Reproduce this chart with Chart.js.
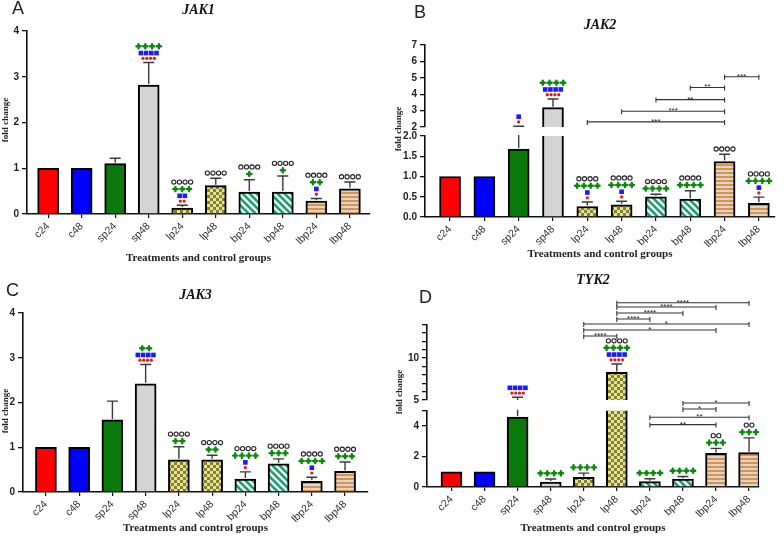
<!DOCTYPE html>
<html>
<head>
<meta charset="utf-8">
<script src="https://cdn.jsdelivr.net/npm/chart.js@4.4.0/dist/chart.umd.min.js"></script>
<style>
  body { margin: 0; background: #fff; width: 784px; height: 537px; position: relative; overflow: hidden; }
  .panel { position: absolute; }
  .panel canvas { position: absolute; left: 0; top: 0; }
  .letter { position: absolute; font: 18px "Liberation Sans", Arial, sans-serif; color: #222; }
</style>
</head>
<body>
<div class="panel" style="left:0;top:0;width:392px;height:270px">
  <canvas id="cA" width="392" height="270"></canvas>
</div>
<div class="panel" style="left:392px;top:0;width:392px;height:270px">
  <canvas id="cB1" width="392" height="270"></canvas>
  <canvas id="cB2" width="392" height="270"></canvas>
</div>
<div class="panel" style="left:0;top:270px;width:392px;height:267px">
  <canvas id="cC" width="392" height="267"></canvas>
</div>
<div class="panel" style="left:392px;top:270px;width:392px;height:267px">
  <canvas id="cD1" width="392" height="267"></canvas>
  <canvas id="cD2" width="392" height="267"></canvas>
</div>
<div class="letter" style="left:12px;top:-2px">A</div>
<div class="letter" style="left:414px;top:2px">B</div>
<div class="letter" style="left:6px;top:280px">C</div>
<div class="letter" style="left:419px;top:287px">D</div>

<script>
// ---- data ----
const groups = ['c24', 'c48', 'sp24', 'sp48', 'lp24', 'lp48', 'bp24', 'bp48', 'lbp24', 'lbp48'];

// JAK1 (A)
const jak1Mean  = [1, 1, 1.10, 2.82, 0.13, 0.62, 0.48, 0.48, 0.28, 0.55];
const jak1Err   = [0, 0, 0.12, 0.49, 0.06, 0.16, 0.27, 0.35, 0.06, 0.15];
const jak1Ticks = [0, 1, 2, 3, 4];
const jak1Labels = ['0', '1', '2', '3', '4'];
const jak1Red   = [0, 0, 0, 4, 2, 0, 0, 0, 1, 0];
const jak1Blue  = [0, 0, 0, 4, 2, 0, 0, 0, 1, 0];
const jak1Green = [0, 0, 0, 4, 3, 0, 1, 1, 2, 0];
const jak1Ring  = [0, 0, 0, 0, 4, 4, 4, 4, 4, 4];

// JAK2 (B) - broken axis
const jak2Mean = [1, 1, 1.68, 3.18, 0.26, 0.30, 0.50, 0.44, 1.37, 0.34];
const jak2Err  = [0, 0, 0.37, 0.53, 0.11, 0.09, 0.06, 0.21, 0.18, 0.15];
const jak2LowTicks  = [0, 0.5, 1, 1.5, 2];
const jak2LowLabels = ['0.0', '0.5', '1.0', '1.5', '2.0'];
const jak2HighTicks  = [2, 3, 4, 5, 6, 7];
const jak2HighLabels = ['2', '3', '4', '5', '6', '7'];
const jak2Red   = [0, 0, 1, 4, 1, 1, 0, 0, 0, 1];
const jak2Blue  = [0, 0, 1, 4, 1, 1, 0, 0, 0, 1];
const jak2Green = [0, 0, 0, 4, 4, 4, 4, 4, 0, 4];
const jak2Ring  = [0, 0, 0, 0, 4, 4, 4, 4, 4, 4];
const jak2Brackets = [[4, 8, 2.31, '***'], [5, 8, 2.96, '***'], [6, 8, 3.67, '**'], [7, 8, 4.41, '**'], [8, 9, 5.06, '***']];

// JAK3 (C)
const jak3Mean  = [1, 1, 1.61, 2.42, 0.72, 0.72, 0.29, 0.63, 0.24, 0.46];
const jak3Err   = [0, 0, 0.42, 0.43, 0.29, 0.10, 0.16, 0.11, 0.09, 0.21];
const jak3Ticks = [0, 1, 2, 3, 4];
const jak3Labels = ['0', '1', '2', '3', '4'];
const jak3Red   = [0, 0, 0, 4, 0, 0, 1, 0, 1, 0];
const jak3Blue  = [0, 0, 0, 4, 0, 0, 1, 0, 1, 0];
const jak3Green = [0, 0, 0, 2, 2, 2, 4, 3, 4, 3];
const jak3Ring  = [0, 0, 0, 0, 4, 4, 4, 4, 4, 4];

// TYK2 (D) - broken axis
const tyk2Mean = [1, 1, 4.58, 0.32, 0.63, 8.28, 0.35, 0.52, 2.20, 2.25];
const tyk2Err  = [0, 0, 0.74, 0.20, 0.28, 1.00, 0.19, 0.17, 0.33, 0.97];
const tyk2LowTicks  = [0, 2, 4, 5];
const tyk2LowLabels = ['0', '2', '4', ''];
const tyk2HighTicks  = [5, 6, 7, 8, 9, 10, 11, 12, 13, 14];
const tyk2HighLabels = ['5', '', '', '', '', '10', '', '', '', ''];
const tyk2Red   = [0, 0, 4, 0, 0, 4, 0, 0, 0, 0];
const tyk2Blue  = [0, 0, 4, 0, 0, 4, 0, 0, 0, 0];
const tyk2Green = [0, 0, 0, 4, 4, 4, 4, 4, 3, 3];
const tyk2Ring  = [0, 0, 0, 0, 0, 4, 0, 0, 2, 2];
const tyk2BracketsHigh = [[5, 9, 16.58, '****'], [5, 8, 16.07, '****'], [5, 7, 15.36, '****'], [5, 6, 14.64, '****'],
                          [4, 9, 14.05, '*'], [4, 8, 13.33, '*'], [4, 5, 12.62, '****']];
const tyk2BracketsLow = [[7, 9, 5.5, '*'], [7, 8, 5.11, '*'], [6, 9, 4.57, '**'], [6, 8, 4.09, '**']];

// ---- bar fills ----
function pattern(kind) {
  const c = document.createElement('canvas');
  const g = c.getContext('2d');
  if (kind === 'check') {
    c.width = c.height = 6;
    g.fillStyle = '#e4e0a8'; g.fillRect(0, 0, 6, 6);
    g.fillStyle = '#858224'; g.fillRect(0, 0, 3, 3); g.fillRect(3, 3, 3, 3);
  } else if (kind === 'diag') {
    c.width = c.height = 7;
    g.fillStyle = '#eef7f3'; g.fillRect(0, 0, 7, 7);
    g.strokeStyle = '#1d9c72'; g.lineWidth = 2.6;
    [-7, 0, 7].forEach(o => { g.beginPath(); g.moveTo(o - 1, -1); g.lineTo(o + 8, 8); g.stroke(); });
  } else {
    c.width = 4; c.height = 4;
    g.fillStyle = '#d6d6d6'; g.fillRect(0, 0, 4, 4);
    g.fillStyle = '#dc9144'; g.fillRect(0, 0, 4, 2);
  }
  return g.createPattern(c, 'repeat');
}
const fills = ['#ff0000', '#0000ff', '#0a780a', '#d4d4d4',
  pattern('check'), pattern('check'), pattern('diag'), pattern('diag'), pattern('hs'), pattern('hs')];

// error bars, clipped to each chart's own area
function errorBars(mean, err) {
  return {
    id: 'errorBars',
    afterDatasetsDraw(chart) {
      const { ctx, chartArea: a } = chart;
      const xs = chart.scales.x, ys = chart.scales.y;
      ctx.save();
      ctx.beginPath(); ctx.rect(a.left, a.top - 1, a.right - a.left, a.bottom - a.top + 1); ctx.clip();
      ctx.strokeStyle = '#3a3a3a'; ctx.lineWidth = 1.4;
      mean.forEach((m, i) => {
        if (!err[i]) return;
        const cx = xs.getPixelForValue(i);
        const y0 = ys.getPixelForValue(m), y1 = ys.getPixelForValue(m + err[i]);
        ctx.beginPath(); ctx.moveTo(cx, y0 - 1); ctx.lineTo(cx, y1);
        if (m + err[i] <= ys.max + 1e-9) { ctx.moveTo(cx - 5.5, y1); ctx.lineTo(cx + 5.5, y1); }
        ctx.stroke();
      });
      ctx.restore();
    }
  };
}

function makeBars(id, o) {
  const cv = document.getElementById(id);
  const W = cv.width, H = cv.height;
  const lh = 14 * 1.2;
  const x = {
    type: 'linear', min: o.xMin, max: o.xMax, offset: false, display: !!o.showX,
    afterBuildTicks: s => { s.ticks = groups.map((g, i) => ({ value: i })); },
    grid: { offset: false, drawOnChartArea: false, tickLength: 4, color: '#111', lineWidth: 1.2 },
    border: { color: '#111', width: 1.6 },
    ticks: { autoSkip: false, minRotation: 45, maxRotation: 45, padding: 2, color: '#333',
      font: { family: 'Liberation Sans', size: 10.5 }, callback: v => groups[v] },
    title: { display: true, text: 'Treatments and control groups', color: '#222',
      font: { family: 'Liberation Serif', size: 11, weight: 'bold' }, padding: { top: 0, bottom: o.xTitlePad || 0 } }
  };
  if (o.showX) x.afterFit = s => { s.height = H - o.bottom; };
  return new Chart(cv, {
    type: 'bar',
    data: {
      datasets: [{
        data: o.mean.map((v, i) => ({ x: i, y: v })),
        backgroundColor: fills, borderColor: '#000', borderWidth: 2,
        barThickness: 21, clip: o.clip ? 0 : false
      }]
    },
    options: {
      responsive: false, animation: false, events: [],
      layout: { padding: { left: 0, right: W - o.right, top: o.title ? 0 : o.top, bottom: o.showX ? 0 : H - o.bottom } },
      plugins: {
        legend: { display: false }, tooltip: { enabled: false },
        title: o.title ? {
          display: true, text: o.title, fullSize: false, color: '#111',
          font: { family: 'Liberation Serif', size: 14, style: 'italic', weight: 'bold' },
          padding: { top: o.titleY - lh / 2, bottom: o.top - o.titleY - lh / 2 }
        } : { display: false }
      },
      scales: {
        x: x,
        y: {
          min: o.ticks[0], max: o.ticks[o.ticks.length - 1],
          afterBuildTicks: s => { s.ticks = o.ticks.map(v => ({ value: v })); },
          afterFit: s => { s.width = o.left; },
          grid: { drawOnChartArea: false, tickLength: 5, color: '#111', lineWidth: 1.3 },
          border: { color: '#111', width: 1.6 },
          ticks: { autoSkip: false, padding: 3, color: '#222', font: { family: 'Liberation Sans', size: 10, weight: 'bold' },
            callback: (v, i) => o.labels[i] }
        }
      }
    },
    plugins: [errorBars(o.mean, o.err)].concat(o.extra || [])
  });
}

// significance symbols, brackets and the y title
// yMap(v, chart) gives the pixel of a value; chart is the one being drawn (the lower part)
function marks(o) {
  return {
    id: 'marks',
    afterDraw(chart) {
      const ctx = chart.ctx;
      const xs = chart.scales.x;
      ctx.save();
      const rows = [
        [o.red, 3.5, 3.8, (x, y) => { ctx.fillStyle = '#f01010'; ctx.beginPath(); ctx.arc(x, y, 1.6, 0, 7); ctx.fill(); }],
        [o.blue, 5, 5.2, (x, y) => { ctx.fillStyle = '#1a1aff'; ctx.fillRect(x - 2.3, y - 2.3, 4.6, 4.6); }],
        [o.green, 6.5, 6.8, (x, y) => {
          ctx.strokeStyle = '#0a8a0a'; ctx.lineWidth = 2.4; ctx.lineCap = 'round';
          ctx.beginPath(); ctx.moveTo(x - 2.1, y); ctx.lineTo(x + 2.1, y); ctx.moveTo(x, y - 2.1); ctx.lineTo(x, y + 2.1); ctx.stroke();
        }],
        [o.ring, 5.5, 5.6, (x, y) => { ctx.strokeStyle = '#222'; ctx.lineWidth = 1.1; ctx.beginPath(); ctx.arc(x, y, 2.1, 0, 7); ctx.stroke(); }]
      ];
      o.mean.forEach((m, i) => {
        let y = o.yMap(m + o.err[i], chart) - 2.5;
        const cx = xs.getPixelForValue(i);
        rows.forEach(([counts, h, gap, draw]) => {
          const n = counts[i];
          if (!n) return;
          const cy = y - h / 2;
          for (let k = 0; k < n; k++) draw(cx + (k - (n - 1) / 2) * gap, cy);
          y -= h + 1;
        });
      });
      ctx.strokeStyle = '#333'; ctx.lineWidth = 1.1; ctx.lineCap = 'butt';
      ctx.fillStyle = '#222'; ctx.font = '8px "Liberation Sans"'; ctx.textAlign = 'center'; ctx.textBaseline = 'alphabetic';
      (o.brackets || []).forEach(([a, b, lvl, txt, map]) => {
        const y = map(lvl, chart), x1 = xs.getPixelForValue(a), x2 = xs.getPixelForValue(b);
        ctx.beginPath();
        ctx.moveTo(x1, y); ctx.lineTo(x2, y);
        ctx.moveTo(x1, y - 2); ctx.lineTo(x1, y + 3);
        ctx.moveTo(x2, y - 2); ctx.lineTo(x2, y + 3);
        ctx.stroke();
        ctx.fillText(txt, (x1 + x2) / 2, y + 2);
      });
      ctx.translate(o.yTitleX, o.yTitleY);
      ctx.rotate(-Math.PI / 2);
      ctx.font = 'bold 9px "Liberation Serif"'; ctx.fillStyle = '#222'; ctx.textBaseline = 'middle';
      ctx.fillText('fold change', 0, 0);
      ctx.restore();
    }
  };
}

// ---- panel A ----
makeBars('cA', {
  mean: jak1Mean, err: jak1Err, ticks: jak1Ticks, labels: jak1Labels,
  left: 27, right: 370, top: 31, bottom: 214, xMin: -0.63, xMax: 9.6,
  showX: true, xTitlePad: 5, title: 'JAK1', titleY: 10,
  extra: [marks({
    mean: jak1Mean, err: jak1Err, red: jak1Red, blue: jak1Blue, green: jak1Green, ring: jak1Ring,
    yMap: (v, ch) => ch.scales.y.getPixelForValue(v), yTitleX: 6, yTitleY: 120
  })]
});

// ---- panel B ----
const bHigh = makeBars('cB1', {
  mean: jak2Mean, err: jak2Err, ticks: jak2HighTicks, labels: jak2HighLabels,
  left: 33, right: 383, top: 45, bottom: 127, xMin: -0.73, xMax: 9.47,
  showX: false, clip: true, title: 'JAK2', titleY: 25
});
const highB = v => bHigh.scales.y.getPixelForValue(v);
makeBars('cB2', {
  mean: jak2Mean, err: jak2Err, ticks: jak2LowTicks, labels: jak2LowLabels,
  left: 33, right: 383, top: 136, bottom: 217, xMin: -0.73, xMax: 9.47,
  showX: true, clip: true, xTitlePad: 9,
  extra: [marks({
    mean: jak2Mean, err: jak2Err, red: jak2Red, blue: jak2Blue, green: jak2Green, ring: jak2Ring,
    yMap: (v, ch) => v > 2 ? highB(v) : ch.scales.y.getPixelForValue(v),
    brackets: jak2Brackets.map(b => b.concat([highB])),
    yTitleX: 7, yTitleY: 129
  })]
});

// ---- panel C ----
makeBars('cC', {
  mean: jak3Mean, err: jak3Err, ticks: jak3Ticks, labels: jak3Labels,
  left: 23, right: 368, top: 43, bottom: 222, xMin: -0.69, xMax: 9.69,
  showX: true, xTitlePad: 2, title: 'JAK3', titleY: 25,
  extra: [marks({
    mean: jak3Mean, err: jak3Err, red: jak3Red, blue: jak3Blue, green: jak3Green, ring: jak3Ring,
    yMap: (v, ch) => ch.scales.y.getPixelForValue(v), yTitleX: 6, yTitleY: 141
  })]
});

// ---- panel D ----
const dHigh = makeBars('cD1', {
  mean: tyk2Mean, err: tyk2Err, ticks: tyk2HighTicks, labels: tyk2HighLabels,
  left: 35, right: 367, top: 54.4, bottom: 130, xMin: -0.74, xMax: 9.3,
  showX: false, clip: true, title: 'TYK2', titleY: 10
});
const highD = v => dHigh.scales.y.getPixelForValue(v);
const lowD = (v, ch) => ch.scales.y.getPixelForValue(v);
makeBars('cD2', {
  mean: tyk2Mean, err: tyk2Err, ticks: tyk2LowTicks, labels: tyk2LowLabels,
  left: 35, right: 367, top: 140.7, bottom: 217, xMin: -0.74, xMax: 9.3,
  showX: true, clip: true, xTitlePad: 2,
  extra: [marks({
    mean: tyk2Mean, err: tyk2Err, red: tyk2Red, blue: tyk2Blue, green: tyk2Green, ring: tyk2Ring,
    yMap: (v, ch) => v > 5 ? highD(v) : lowD(v, ch),
    brackets: tyk2BracketsHigh.map(b => b.concat([highD])).concat(tyk2BracketsLow.map(b => b.concat([lowD]))),
    yTitleX: 8, yTitleY: 122
  })]
});
</script>
</body>
</html>
